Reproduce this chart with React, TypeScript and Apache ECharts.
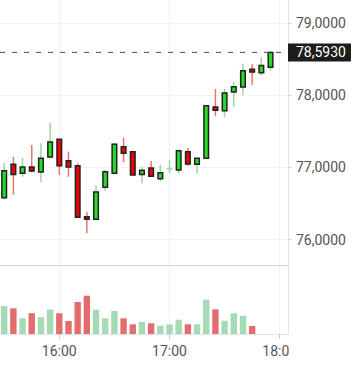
import React, { useEffect, useRef } from 'react';
import * as echarts from 'echarts';

const times = [
  '15:30', '15:35', '15:40', '15:45', '15:50', '15:55',
  '16:00', '16:05', '16:10', '16:15', '16:20', '16:25',
  '16:30', '16:35', '16:40', '16:45', '16:50', '16:55',
  '17:00', '17:05', '17:10', '17:15', '17:20', '17:25',
  '17:30', '17:35', '17:40', '17:45', '17:50', '17:55',
];
const opens = [
  76.58, 77.043, 76.918, 77.006, 76.936, 77.144,
  77.39, 77.093, 77.024, 76.317, 76.281, 76.724,
  76.918, 77.287, 77.217, 76.9, 76.99, 76.844,
  76.978, 76.964, 77.217, 77.043, 77.126, 77.837,
  77.785, 78.044, 78.114, 78.36, 78.31, 78.386,
];
const highs = [
  77.065, 77.148, 77.134, 77.31, 77.334, 77.62,
  77.39, 77.218, 77.057, 76.386, 76.75, 76.964,
  77.342, 77.411, 77.217, 77.01, 77.09, 77.033,
  77.1, 77.25, 77.273, 77.126, 77.86, 78.086,
  78.086, 78.187, 78.44, 78.43, 78.525, 78.608,
];
const lows = [
  76.56, 76.62, 76.87, 76.93, 76.794, 77.126,
  76.895, 76.87, 76.309, 76.087, 76.27, 76.673,
  76.918, 77.07, 76.895, 76.78, 76.877, 76.81,
  76.92, 76.918, 77.024, 76.918, 77.116, 77.71,
  77.7, 77.84, 78.0, 78.14, 78.27, 78.34,
];
const closes = [
  76.954, 76.9, 77.006, 76.95, 77.126, 77.352,
  77.024, 77.006, 76.309, 76.281, 76.66, 76.94,
  77.32, 77.195, 76.895, 76.96, 76.877, 76.927,
  76.978, 77.231, 77.047, 77.126, 77.855, 77.79,
  78.03, 78.118, 78.34, 78.32, 78.41, 78.593,
];
const volumes = [
  1400, 1285, 785, 1035, 835, 1215,
  1035, 650, 1600, 1915, 1215, 785,
  1150, 785, 485, 600, 535, 415,
  485, 715, 485, 485, 1715, 1235,
  665, 1035, 915, 400, 0, 0,
];
const priceTicks = [76, 77, 78, 79];
const hourTicks = [16, 17, 18];
const lastPrice = 78.593;

const X_MIN = 15.4619;
const X_MAX = 18.0753;
const Y_MIN = 75.648;
const Y_MAX = 79.3186;
const VOL_MAX = 3400;

const toHours = (t: string) => {
  const [h, m] = t.split(':').map(Number);
  return h + m / 60;
};
const isInt = (v: number) => Math.abs(v - Math.round(v)) < 1e-6;
const fmtPrice = (v: number) => v.toFixed(4).replace('.', ',');

const FONT = 'Roboto, "Noto Sans", sans-serif';

export default function App() {
  const ref = useRef<HTMLDivElement>(null);
  useEffect(() => {
    const chart = echarts.init(ref.current!, null, { renderer: 'svg' });
    const candleData = times.map((t, i) => [toHours(t), opens[i], closes[i], lows[i], highs[i]]);
    const volData = times.map((t, i) => [toHours(t), volumes[i], closes[i] >= opens[i] ? 1 : -1]);

    const option: any = {
      animation: false,
      backgroundColor: '#ffffff',
      grid: [
        { left: 0, right: 68, top: 0, height: 265 },
        { left: 0, right: 68, top: 266, height: 68 },
      ],
      xAxis: [
        {
          type: 'value', gridIndex: 0, min: X_MIN, max: X_MAX,
          axisLine: { show: true, lineStyle: { color: '#d2d2d2', width: 1 } },
          axisTick: { show: false, customValues: hourTicks },
          axisLabel: { show: false },
          splitLine: { show: true, lineStyle: { color: '#f1f1f1', width: 1 } },
        },
        {
          type: 'value', gridIndex: 1, min: X_MIN, max: X_MAX,
          axisLine: { show: true, lineStyle: { color: '#e0e3eb', width: 1 } },
          axisTick: { show: true, length: 5, customValues: hourTicks, lineStyle: { color: '#c8c8c8' } },
          axisLabel: {
            show: true, customValues: hourTicks, margin: 10,
            color: '#555', fontSize: 14, fontFamily: FONT,
            formatter: (v: number) => (isInt(v) ? `${Math.round(v)}:00` : ''),
          },
          splitLine: { show: true, lineStyle: { color: '#f1f1f1', width: 1 } },
        },
      ],
      yAxis: [
        {
          type: 'value', gridIndex: 0, position: 'right', min: Y_MIN, max: Y_MAX,
          axisLine: { show: true, lineStyle: { color: '#e0e3eb', width: 1 } },
          axisTick: { show: true, length: 4, customValues: priceTicks, lineStyle: { color: '#d6d6d6' } },
          axisLabel: {
            show: true, customValues: priceTicks, margin: 8,
            color: '#555', fontSize: 14, fontFamily: FONT,
            formatter: (v: number) => (isInt(v) ? fmtPrice(v) : ''),
          },
          splitLine: { show: true, lineStyle: { color: '#f1f1f1', width: 1 } },
        },
        {
          type: 'value', gridIndex: 1, position: 'right', min: 0, max: VOL_MAX,
          axisLine: { show: true, lineStyle: { color: '#e0e3eb', width: 1 } },
          axisTick: { show: false },
          axisLabel: { show: false },
          splitLine: { show: false },
        },
      ],
      series: [
        {
          type: 'custom', name: 'candles', xAxisIndex: 0, yAxisIndex: 0,
          data: candleData,
          encode: { x: 0, y: [1, 2, 3, 4] },
          renderItem: (params: any, api: any) => {
            const x = api.value(0);
            const o = api.value(1);
            const c = api.value(2);
            const l = api.value(3);
            const h = api.value(4);
            const pO = api.coord([x, o]);
            const pC = api.coord([x, c]);
            const pL = api.coord([x, l]);
            const pH = api.coord([x, h]);
            const up = c >= o;
            const cx = pO[0];
            const wickColor = up ? '#9fd69f' : '#e07a6e';
            const top = Math.min(pO[1], pC[1]);
            const bh = Math.abs(pO[1] - pC[1]);
            const children: any[] = [
              {
                type: 'line',
                shape: { x1: cx, y1: pH[1], x2: cx, y2: pL[1] },
                style: { stroke: wickColor, lineWidth: 1.5 },
              },
            ];
            if (bh < 0.8) {
              children.push({
                type: 'line',
                shape: { x1: cx - 3, y1: top, x2: cx + 3, y2: top },
                style: { stroke: wickColor, lineWidth: 1.5 },
              });
            } else {
              children.push({
                type: 'rect',
                shape: { x: cx - 2.3, y: top, width: 4.6, height: bh },
                style: { fill: up ? '#26dc26' : '#f20000', stroke: '#222', lineWidth: 1.5 },
              });
            }
            return { type: 'group', children };
          },
        },
        {
          type: 'custom', name: 'volume', xAxisIndex: 1, yAxisIndex: 1,
          data: volData,
          encode: { x: 0, y: 1 },
          renderItem: (params: any, api: any) => {
            const x = api.value(0);
            const v = api.value(1);
            const up = api.value(2) > 0;
            if (!v) return null;
            const pT = api.coord([x, v]);
            const pB = api.coord([x, 0]);
            return {
              type: 'rect',
              shape: { x: pT[0] - 3.2, y: pT[1], width: 6.4, height: pB[1] - pT[1] },
              style: { fill: up ? '#a6d9b6' : '#e36d6d' },
            };
          },
        },
        {
          type: 'line', name: 'price', xAxisIndex: 0, yAxisIndex: 0,
          data: [[X_MIN, lastPrice], [X_MAX, lastPrice]],
          showSymbol: false, symbol: 'none', silent: true,
          lineStyle: { color: '#4a4a4a', width: 1, type: [5, 7] },
          endLabel: {
            show: true, distance: 0,
            formatter: () => fmtPrice(lastPrice),
            color: '#ffffff', backgroundColor: '#1c1c1c',
            fontSize: 14, fontFamily: FONT, padding: [2, 5, 2, 8],
          },
          z: 5,
        },
      ],
      graphic: [
        {
          type: 'rect', z: 100, silent: true,
          shape: { x: 289, y: 337, width: 67, height: 30 },
          style: { fill: '#ffffff' },
        },
      ],
    };
    chart.setOption(option);
    return () => chart.dispose();
  }, []);
  return (
    <div
      ref={ref}
      style={{ position: 'absolute', left: 0, top: 0, width: 356, height: 367 }}
    />
  );
}
